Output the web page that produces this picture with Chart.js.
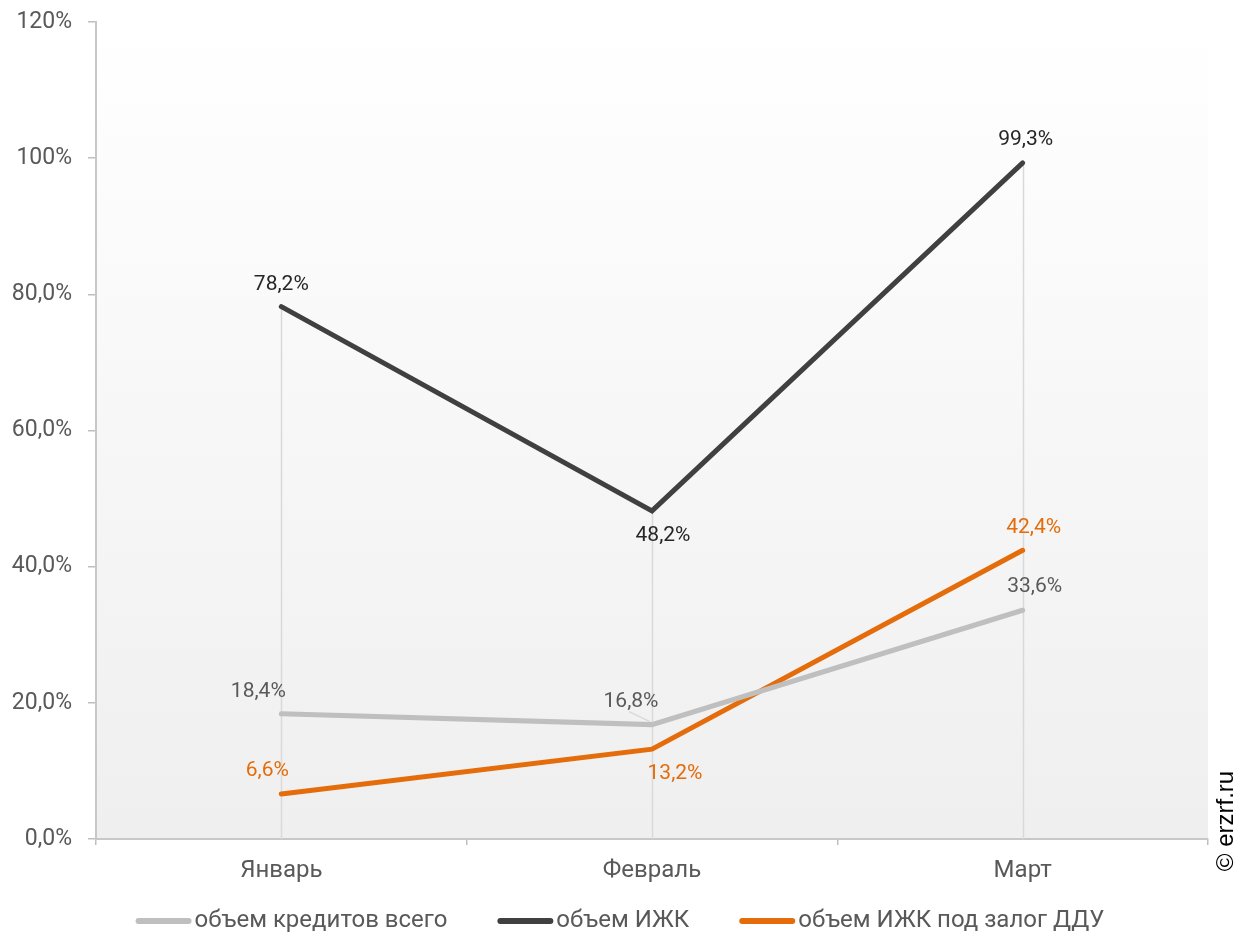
<!DOCTYPE html>
<html>
<head>
<meta charset="utf-8">
<script src="https://cdn.jsdelivr.net/npm/chart.js@4/dist/chart.umd.min.js"></script>
<style>
html,body{margin:0;padding:0;background:#fff;}
#wrap{width:1254px;height:936px;position:relative;}
</style>
</head>
<body>
<div id="wrap"><canvas id="c" width="1254" height="936"></canvas></div>
<script>
const categories = ['Январь', 'Февраль', 'Март'];
const seriesNames = ['объем кредитов всего', 'объем ИЖК', 'объем ИЖК под залог ДДУ'];
const totalCredits = [18.4, 16.8, 33.6];
const izhk = [78.2, 48.2, 99.3];
const izhkDdu = [6.6, 13.2, 42.4];
const yTicks = [0, 20, 40, 60, 80, 100, 120];

const colors = ['#bfbfbf', '#404040', '#e46c0a'];
const labelColors = ['#595959', '#262626', '#e46c0a'];
// label offsets (px) relative to each point, per dataset
const labelOffsets = [
  [[-23, -22], [-21, -23], [12, -23]],
  [[0, -22], [11, 25], [3, -23]],
  [[-14, -23], [23, 25], [11, -23]]
];

function fmt(v) {
  return (v >= 100 ? v.toFixed(0) : v.toFixed(1)).replace('.', ',') + '%';
}

const FONT = 'Roboto, "Noto Sans", sans-serif';

const bgPlugin = {
  id: 'bg',
  beforeDraw(chart) {
    const {ctx, chartArea: a} = chart;
    const g = ctx.createLinearGradient(0, a.top, 0, a.bottom);
    g.addColorStop(0, '#ffffff');
    g.addColorStop(1, '#efefef');
    ctx.save();
    ctx.fillStyle = g;
    ctx.fillRect(a.left, a.top, a.right - a.left, a.bottom - a.top);
    ctx.restore();
  },
  beforeDatasetsDraw(chart) {
    // drop lines from axis to highest point of each category
    const {ctx, scales: {x, y}} = chart;
    ctx.save();
    ctx.strokeStyle = '#d9d9d9';
    ctx.lineWidth = 1.5;
    categories.forEach((c, i) => {
      const maxV = Math.max(totalCredits[i], izhk[i], izhkDdu[i]);
      const px = Math.round(x.getPixelForValue(i)) + 0.5;
      ctx.beginPath();
      ctx.moveTo(px, y.getPixelForValue(0));
      ctx.lineTo(px, y.getPixelForValue(maxV));
      ctx.stroke();
    });
    ctx.restore();
  },
  afterDatasetsDraw(chart) {
    const {ctx} = chart;
    ctx.save();
    ctx.font = '21px ' + FONT;
    ctx.textAlign = 'center';
    ctx.textBaseline = 'middle';
    chart.data.datasets.forEach((ds, di) => {
      const meta = chart.getDatasetMeta(di);
      meta.data.forEach((pt, i) => {
        const [dx, dy] = labelOffsets[di][i];
        if (di === 0 && i === 1) {
          ctx.strokeStyle = '#d9d9d9';
          ctx.lineWidth = 1.5;
          ctx.beginPath();
          ctx.moveTo(pt.x + dx - 2, pt.y + dy + 10);
          ctx.lineTo(pt.x - 2, pt.y - 3);
          ctx.stroke();
        }
        ctx.fillStyle = labelColors[di];
        ctx.fillText(fmt(ds.data[i]), pt.x + dx, pt.y + dy);
      });
    });
    ctx.restore();
  },
  afterDraw(chart) {
    const {ctx} = chart;
    // legend
    ctx.save();
    ctx.font = '24px ' + FONT;
    ctx.textBaseline = 'middle';
    const sw = 56, gapText = 3, gapItem = 50, legendY = 921, legendCenter = 620;
    const widths = seriesNames.map(n => sw + gapText + ctx.measureText(n).width);
    const total = widths.reduce((a, b) => a + b, 0) + gapItem * (widths.length - 1);
    let xPos = legendCenter - total / 2;
    seriesNames.forEach((n, i) => {
      ctx.fillStyle = colors[i];
      ctx.beginPath();
      ctx.roundRect(xPos, legendY - 3, sw, 6, 3);
      ctx.fill();
      ctx.fillStyle = '#595959';
      ctx.textAlign = 'left';
      ctx.fillText(n, xPos + sw + gapText, legendY);
      xPos += widths[i] + gapItem;
    });
    ctx.restore();
    // copyright
    ctx.save();
    ctx.translate(1226, 821);
    ctx.rotate(-Math.PI / 2);
    ctx.font = '24px "Liberation Sans", Arial, sans-serif';
    ctx.fillStyle = '#000000';
    ctx.textAlign = 'center';
    ctx.textBaseline = 'middle';
    ctx.fillText('© erzrf.ru', 0, 0);
    ctx.restore();
  }
};

new Chart(document.getElementById('c'), {
  type: 'line',
  data: {
    labels: categories,
    datasets: [totalCredits, izhk, izhkDdu].map((d, i) => ({
      label: seriesNames[i],
      data: d,
      borderColor: colors[i],
      backgroundColor: colors[i],
      borderWidth: 5,
      borderCapStyle: 'round',
      borderJoinStyle: 'miter',
      pointRadius: 0,
      tension: 0,
      fill: false
    }))
  },
  options: {
    responsive: false,
    animation: false,
    devicePixelRatio: 1,
    layout: {padding: {left: 0, right: 46, top: 22, bottom: 47}},
    plugins: {
      tooltip: {enabled: false},
      legend: {display: false}
    },
    scales: {
      x: {
        offset: true,
        grid: {offset: true, drawOnChartArea: false, color: '#bfbfbf', tickLength: 6, lineWidth: 1.5},
        border: {color: '#c8c8c8', width: 2},
        ticks: {font: {family: FONT, size: 24}, color: '#595959', padding: 12},
        afterFit(s) { s.height = 50; s.paddingLeft = 0; s.paddingRight = 0; }
      },
      y: {
        min: 0,
        max: 120,
        afterBuildTicks(s) { s.ticks = yTicks.map(v => ({value: v})); },
        grid: {drawOnChartArea: false, color: '#bfbfbf', tickLength: 8, lineWidth: 1.5},
        border: {color: '#c8c8c8', width: 2},
        ticks: {
          font: {family: FONT, size: 23},
          color: '#595959',
          padding: 16,
          callback: (v) => fmt(v)
        },
        afterFit(s) { s.width = 96; s.paddingTop = 0; s.paddingBottom = 0; }
      }
    }
  },
  plugins: [bgPlugin]
});
</script>
</body>
</html>
